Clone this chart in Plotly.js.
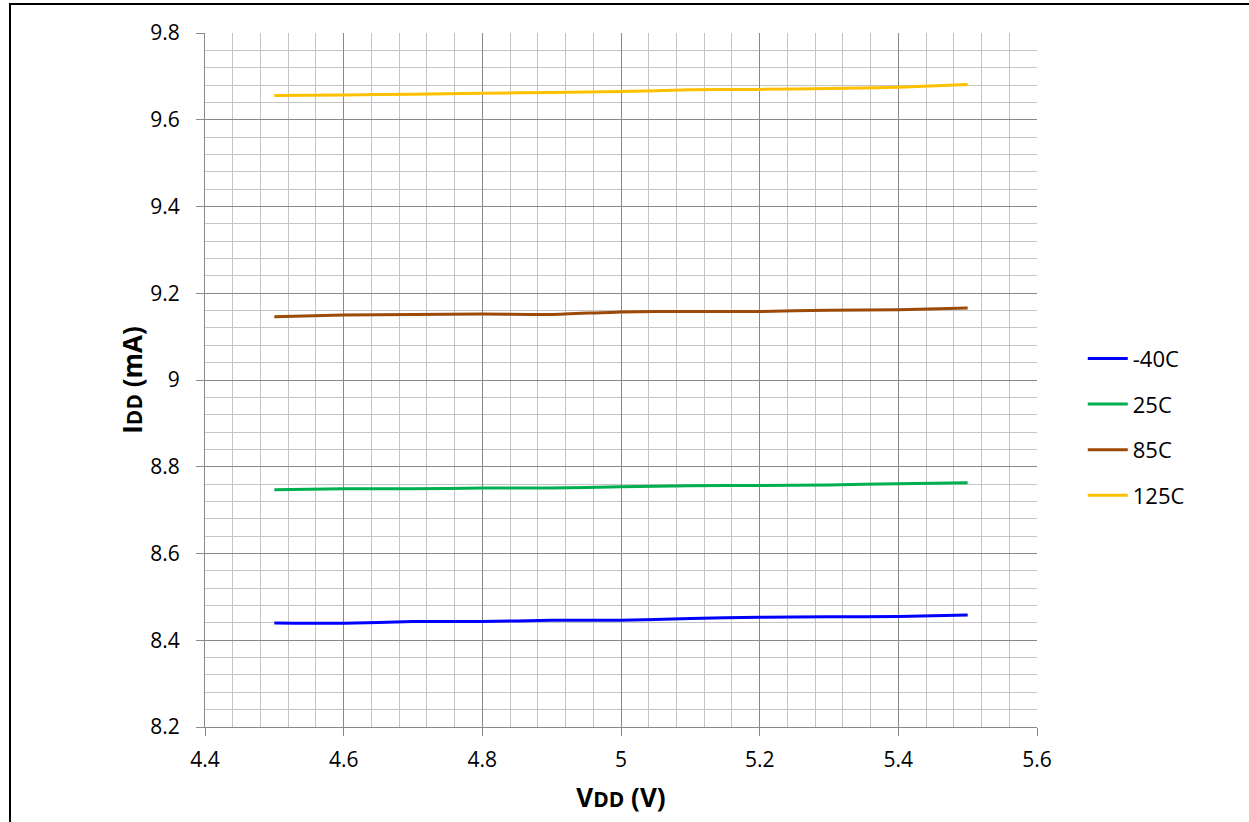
<!DOCTYPE html>
<html>
<head>
<meta charset="utf-8">
<script src="https://cdn.plot.ly/plotly-3.0.1.min.js"></script>
<style>
html,body{margin:0;padding:0;background:#fff;}
#chart{width:1249px;height:822px;}
#frame{position:absolute;left:9px;top:3px;width:1260px;height:900px;border:2px solid #000;pointer-events:none;box-sizing:border-box;}
</style>
</head>
<body>
<div id="chart"></div>
<div id="frame"></div>
<script>
const vdd = [4.5, 4.6, 4.7, 4.8, 4.9, 5.0, 5.1, 5.2, 5.3, 5.4, 5.5];
const idd_m40 = [8.440, 8.439, 8.443, 8.443, 8.446, 8.446, 8.450, 8.453, 8.454, 8.455, 8.458];
const idd_25 = [8.747, 8.749, 8.749, 8.751, 8.751, 8.754, 8.756, 8.757, 8.758, 8.761, 8.763];
const idd_85 = [9.146, 9.150, 9.151, 9.152, 9.151, 9.157, 9.158, 9.158, 9.161, 9.162, 9.166];
const idd_125 = [9.656, 9.657, 9.659, 9.661, 9.663, 9.665, 9.669, 9.670, 9.672, 9.675, 9.681];
const seriesNames = ['-40C', '25C', '85C', '125C'];
const seriesColors = ['#0000ff', '#00b050', '#9c4a06', '#ffc000'];
const seriesData = [idd_m40, idd_25, idd_85, idd_125];

const font = '"Open Sans", Lato, "Liberation Sans", sans-serif';
const traces = seriesData.map((y, i) => ({
  x: vdd, y: y, type: 'scatter', mode: 'lines', name: seriesNames[i], legendgroup: 'g' + i,
  line: {color: seriesColors[i], width: 3, shape: 'spline', smoothing: 0.6}
}));

const layout = {
  width: 1249, height: 822,
  margin: {l: 205, r: 212, t: 33, b: 95},
  paper_bgcolor: '#fff', plot_bgcolor: '#fff',
  font: {family: font, size: 21, color: '#000'},
  showlegend: true,
  legend: {x: 1.055, y: 0.432, xanchor: 'left', yanchor: 'middle', font: {size: 22, family: font},
           tracegroupgap: 14, itemwidth: 40, bgcolor: 'rgba(0,0,0,0)'},
  xaxis: {
    range: [4.4, 5.6], dtick: 0.2, tick0: 4.4,
    showgrid: true, gridcolor: '#888888', gridwidth: 1,
    minor: {dtick: 0.04, tick0: 4.4, showgrid: true, gridcolor: '#c4c4c4', gridwidth: 1},
    showline: true, linecolor: '#888888', linewidth: 1,
    ticks: 'outside', ticklen: 8, tickcolor: '#888888', ticklabelstandoff: 6,
    zeroline: false, fixedrange: true,
    tickfont: {size: 21, family: font},
    title: {text: '<b>V<span style="font-size:21px">DD</span> (V)</b>', font: {size: 26, family: font}, standoff: 16}
  },
  yaxis: {
    range: [8.2, 9.8], dtick: 0.2, tick0: 8.2,
    showgrid: true, gridcolor: '#888888', gridwidth: 1,
    minor: {dtick: 0.04, tick0: 8.2, showgrid: true, gridcolor: '#c4c4c4', gridwidth: 1},
    showline: true, linecolor: '#888888', linewidth: 1,
    ticks: 'outside', ticklen: 8, tickcolor: '#888888', ticklabelstandoff: 12,
    zeroline: false, fixedrange: true,
    tickfont: {size: 21, family: font},
    title: {text: '<b>I<span style="font-size:21px">DD</span> (mA)</b>', font: {size: 26, family: font}, standoff: 0}
  }
};

Plotly.newPlot('chart', traces, layout, {displayModeBar: false, staticPlot: true});
</script>
</body>
</html>
